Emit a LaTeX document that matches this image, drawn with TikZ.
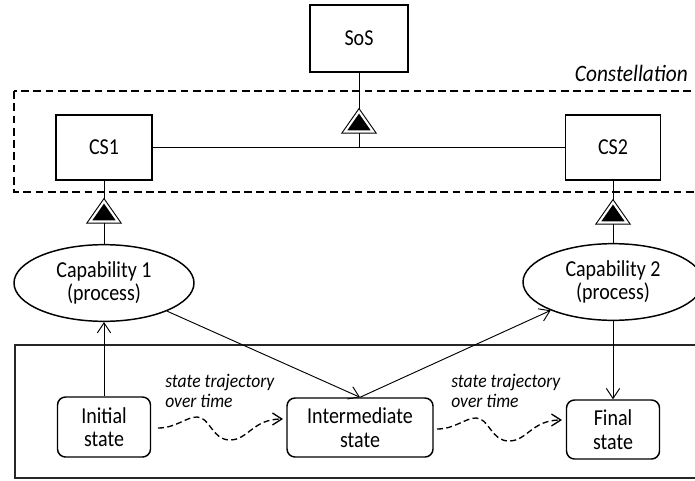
\documentclass[tikz,border=0pt]{standalone}
\usepackage{graphicx}
\usepackage{fontspec}
\setmainfont{Carlito}
\usetikzlibrary{arrows.meta,shapes.geometric}
\newcommand\ttxt[2]{\scalebox{1}[1.14]{\vbox{\baselineskip=15.5pt\lineskiplimit=-20pt\lineskip=0pt\halign{\hfil##\hfil\cr#1\cr#2\cr}}}}
\newcommand\otxt[1]{\scalebox{1}[1.14]{#1}}
\newcommand\itxt[1]{\scalebox{1}[1.1]{#1}}
\begin{document}
\begin{tikzpicture}[x=0.75pt,y=-0.75pt,
  lbl/.style={font=\fontsize{15}{15.5}\selectfont, inner sep=0pt},
  sysbox/.style={lbl, draw, line width=1.1pt},
  statebox/.style={lbl, draw, line width=1.1pt, rounded corners=6pt},
  capnode/.style={lbl, draw, ellipse, line width=1.1pt, minimum width=135pt, minimum height=57.5pt},
  conn/.style={line width=0.7pt},
  arr/.style={conn, -{Straight Barb[length=7.5pt,width=10pt]}},
  traj/.style={line width=1pt, dash pattern=on 4.5pt off 2.5pt, -{Straight Barb[length=7pt,width=9pt]}},
  itl/.style={inner sep=0pt, font=\itshape\fontsize{13.2}{15}\selectfont, anchor=base west},
  agg/.pic={\draw[line width=0.8pt, fill=black, double=white, double distance=1.6pt] (0,0) -- (-14,20) -- (14,20) -- cycle;},
  squig/.pic={\draw[traj] (0,0) .. controls (18,0) and (28,-11) .. (39,-11) .. controls (52,-11) and (54,12) .. (72,12) .. controls (90,12) and (95,-9) .. (125,-9);}
]
\useasboundingbox (0,0) rectangle (695,481);

% frames
\draw[line width=1.1pt, dash pattern=on 5.8pt off 3.4pt] (14,91) rectangle (730,192);
\draw[line width=1.2pt, draw=black!85] (15,345) rectangle (730,478);

% systems
\node[sysbox, minimum width=73.5pt, minimum height=50.25pt] (sos) at (359,38.5) {\otxt{SoS}};
\node[sysbox, minimum width=72pt, minimum height=48.75pt] (cs1) at (104,147.5) {\otxt{CS1}};
\node[sysbox, minimum width=71.25pt, minimum height=48.75pt] (cs2) at (613,147.5) {\otxt{CS2}};
\node[inner sep=0pt, anchor=base east, font=\itshape\fontsize{16}{19}\selectfont] (constl) at (688,82) {\itxt{Constellation}};

% capabilities
\node[capnode] (cap1) at (104,283) {\ttxt{Capability 1}{(process)}};
\node[capnode] (cap2) at (613,282) {\ttxt{Capability 2}{(process)}};

% states
\node[statebox, minimum width=69.75pt, minimum height=45pt] (init) at (104,427) {\ttxt{Initial}{state}};
\node[statebox, minimum width=109.5pt, minimum height=44.25pt] (inter) at (360,427.5) {\ttxt{Intermediate}{state}};
\node[statebox, minimum width=69.75pt, minimum height=44.25pt] (final) at (613,429.5) {\ttxt{Final}{state}};

% aggregation triangles
\coordinate (t0a) at (359,111.5); \coordinate (t0b) at (359,131.5);
\coordinate (t1a) at (104,201.5); \coordinate (t1b) at (104,221.5);
\coordinate (t2a) at (613,202.5); \coordinate (t2b) at (613,222.5);
\coordinate (hj) at (359,147.5);
\draw[conn] (sos.south) -- (t0a);
\draw[conn] (t0b) -- (hj);
\draw[conn] (cs1.east) -- (cs2.west);
\draw[conn] (cs1.south) -- (t1a);
\draw[conn] (t1b) -- (cap1.north);
\draw[conn] (cs2.south) -- (t2a);
\draw[conn] (t2b) -- (cap2.north);
\pic at (t0a) {agg};
\pic at (t1a) {agg};
\pic at (t2a) {agg};

% arrows
\draw[arr] (init.north) -- (cap1.south);
\draw[arr] (cap1) -- (inter.north);
\draw[arr] (inter.north) -- (cap2);
\draw[arr] (cap2.south) -- (final.north);

% trajectories
\pic at (158,428) {squig};
\pic at (437,429) {squig};
\node[itl] (l1a) at (165,387) {\itxt{state trajectory}};
\node[itl] (l1b) at (165,407) {\itxt{over time}};
\node[itl] (l2a) at (451,387) {\itxt{state trajectory}};
\node[itl] (l2b) at (451,407) {\itxt{over time}};
\end{tikzpicture}
\end{document}
